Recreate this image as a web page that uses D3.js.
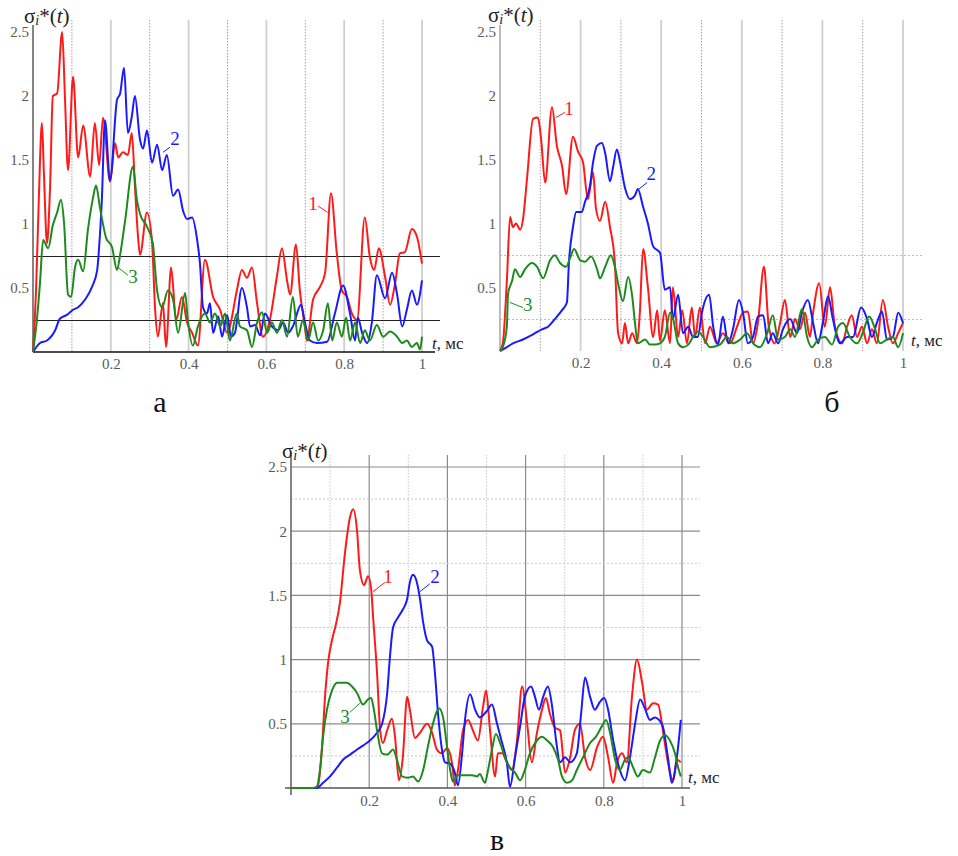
<!DOCTYPE html>
<html>
<head>
<meta charset="utf-8">
<script src="https://cdn.jsdelivr.net/npm/d3@7"></script>
<style>
  body { margin: 0; background: #fff; }
  svg text, svg tspan { font-family: "Liberation Serif", "Times New Roman", "DejaVu Serif", serif !important; }
</style>
</head>
<body>
<svg id="chart" width="958" height="856"></svg>
<script>
// ---- data (t in ms, sigma_i*) ----
var yTicks = [0.5, 1, 1.5, 2, 2.5];
var yTickLabels = ["0.5", "1", "1.5", "2", "2.5"];
var xTicks = [0.2, 0.4, 0.6, 0.8, 1];
var xTickLabels = ["0.2", "0.4", "0.6", "0.8", "1"];
var gridMajor = [0.2, 0.4, 0.6, 0.8, 1];
var gridMinor = [0.1, 0.3, 0.5, 0.7, 0.9];
var levelLines = [0.25, 0.75];
var gridYMinor = [0.25, 0.75, 1.25, 1.75, 2.25];
var seriesNames = ["1", "2", "3"];

// panel а
var redA = [[0,0],[.008,.5],[.015,1.2],[.023,1.79],[.028,1.4],[.036,.85],[.044,1.3],[.051,2.0],[.062,2.02],[.075,2.5],[.082,2.0],[.090,1.42],[.103,2.15],[.116,1.52],[.129,1.77],[.147,1.37],[.159,1.79],[.170,1.46],[.180,1.83],[.198,1.33],[.211,1.63],[.219,1.52],[.231,1.56],[.244,1.54],[.254,1.71],[.262,1.3],[.270,.9],[.275,.76],[.293,1.09],[.306,.86],[.314,.33],[.321,.12],[.334,.38],[.342,.04],[.355,.66],[.368,.25],[.383,.43],[.396,.23],[.409,.15],[.424,.05],[.442,.72],[.463,.43],[.481,.33],[.499,.15],[.506,.2],[.524,.48],[.537,.64],[.550,.58],[.563,.66],[.576,.38],[.591,.12],[.609,.25],[.627,.59],[.640,.81],[.653,.56],[.661,.45],[.676,.84],[.686,.48],[.699,.2],[.704,.09],[.720,.41],[.738,.51],[.751,.62],[.766,1.24],[.781,.77],[.794,.48],[.807,.43],[.820,.3],[.833,.25],[.853,1.05],[.866,.74],[.877,.64],[.889,.81],[.905,.59],[.918,.37],[.931,.54],[.943,.77],[.956,.78],[.974,.96],[.987,.9],[1,.69]];
var blueA = [[0,0],[.018,.07],[.036,.09],[.057,.17],[.069,.26],[.087,.29],[.103,.33],[.116,.35],[.134,.41],[.152,.51],[.165,.64],[.170,.82],[.177,1.19],[.185,1.81],[.198,1.34],[.216,1.97],[.224,2.02],[.234,2.22],[.244,1.71],[.254,1.84],[.262,2.0],[.275,1.66],[.283,1.59],[.293,1.73],[.306,1.48],[.319,1.62],[.332,1.42],[.344,1.54],[.360,1.22],[.373,1.27],[.386,1.1],[.396,1.04],[.409,1.05],[.422,.875],[.429,.7],[.437,.35],[.447,.3],[.455,.38],[.463,.15],[.476,.28],[.486,.12],[.499,.29],[.509,.12],[.519,.15],[.537,.5],[.550,.35],[.558,.2],[.571,.21],[.584,.13],[.596,.3],[.614,.2],[.630,.17],[.643,.23],[.656,.15],[.668,.2],[.689,.37],[.699,.23],[.712,.09],[.730,.07],[.756,.08],[.776,.3],[.797,.52],[.815,.3],[.828,.09],[.835,.27],[.846,.15],[.859,.07],[.871,.23],[.884,.6],[.905,.42],[.923,.62],[.936,.45],[.949,.2],[.961,.33],[.974,.48],[.987,.37],[1,.56]];
var greenA = [[0,0],[.010,.25],[.018,.54],[.026,.875],[.039,.81],[.051,.99],[.062,1.09],[.072,1.19],[.080,1.0],[.090,.45],[.098,.43],[.108,.66],[.116,.72],[.129,.63],[.141,.95],[.154,1.2],[.162,1.3],[.172,1.13],[.188,.89],[.203,.82],[.216,.64],[.224,.76],[.237,1.03],[.257,1.45],[.267,1.19],[.275,1.08],[.293,.98],[.308,.85],[.319,.48],[.332,.35],[.347,.48],[.360,.41],[.373,.15],[.391,.46],[.398,.25],[.411,.05],[.424,.2],[.442,.3],[.455,.23],[.468,.3],[.481,.2],[.494,.3],[.506,.09],[.524,.3],[.532,.2],[.550,.17],[.563,.04],[.576,.23],[.589,.31],[.602,.15],[.614,.23],[.627,.15],[.640,.25],[.653,.12],[.668,.43],[.681,.12],[.694,.25],[.707,.09],[.720,.23],[.733,.09],[.746,.17],[.758,.38],[.769,.09],[.781,.23],[.794,.12],[.805,.27],[.815,.09],[.828,.23],[.841,.07],[.853,.17],[.866,.09],[.884,.21],[.900,.12],[.918,.16],[.936,.12],[.949,.07],[.961,.09],[.974,.04],[.987,.07],[.995,.02],[1,.12]];

// panel б
var redB = [[0,0],[.007,.06],[.017,.55],[.025,1.05],[.032,.97],[.040,1.0],[.050,.95],[.057,1.03],[.067,1.35],[.082,1.82],[.094,1.83],[.102,1.66],[.112,1.32],[.129,1.91],[.141,1.61],[.154,1.45],[.164,1.23],[.181,1.68],[.194,1.56],[.206,1.48],[.218,1.19],[.231,1.4],[.238,1.12],[.248,1.02],[.261,1.17],[.273,.97],[.285,.69],[.293,.14],[.303,.06],[.310,.22],[.318,.06],[.328,.14],[.340,.06],[.347,.3],[.355,.8],[.367,.5],[.380,.11],[.390,.32],[.397,.08],[.409,.32],[.422,.06],[.429,.5],[.442,.11],[.452,.32],[.464,.06],[.476,.34],[.484,.11],[.496,.34],[.509,.06],[.521,.19],[.538,.06],[.553,.14],[.571,.06],[.588,.19],[.603,.3],[.615,.31],[.628,.06],[.640,.22],[.655,.66],[.667,.19],[.682,.06],[.695,.22],[.707,.4],[.720,.11],[.732,.25],[.744,.17],[.757,.3],[.769,.11],[.777,.3],[.792,.53],[.806,.19],[.819,.5],[.831,.19],[.849,.06],[.861,.19],[.873,.28],[.886,.11],[.898,.19],[.911,.06],[.923,.17],[.935,.06],[.950,.4],[.963,.19],[.975,.06],[.988,.14],[1,.22]];
var blueB = [[0,0],[.017,.03],[.032,.06],[.057,.09],[.082,.13],[.104,.17],[.119,.19],[.136,.25],[.154,.32],[.166,.38],[.171,.69],[.181,.97],[.189,1.09],[.203,1.09],[.211,1.17],[.223,1.29],[.231,1.48],[.241,1.61],[.253,1.63],[.261,1.55],[.273,1.33],[.280,1.43],[.290,1.58],[.298,1.48],[.310,1.28],[.323,1.19],[.335,1.22],[.342,1.27],[.355,1.13],[.367,1.0],[.380,.82],[.397,.77],[.409,.48],[.422,.5],[.429,.25],[.442,.44],[.454,.14],[.467,.19],[.479,.11],[.491,.11],[.501,.3],[.519,.44],[.529,.19],[.541,.05],[.553,.27],[.566,.06],[.578,.17],[.593,.4],[.603,.3],[.615,.06],[.628,.11],[.640,.27],[.653,.28],[.665,.06],[.677,.14],[.690,.06],[.702,.17],[.720,.25],[.737,.14],[.749,.3],[.764,.4],[.777,.22],[.789,.06],[.801,.22],[.814,.43],[.826,.25],[.844,.06],[.861,.11],[.876,.11],[.896,.34],[.911,.25],[.923,.11],[.935,.22],[.948,.31],[.960,.09],[.975,.11],[.988,.3],[1,.22]];
var greenB = [[0,0],[.007,.03],[.017,.19],[.020,.45],[.030,.55],[.037,.64],[.050,.58],[.062,.64],[.079,.69],[.092,.66],[.107,.57],[.124,.71],[.136,.75],[.149,.69],[.164,.66],[.174,.73],[.184,.8],[.199,.71],[.211,.7],[.226,.74],[.241,.64],[.248,.57],[.261,.66],[.275,.75],[.285,.66],[.295,.5],[.305,.39],[.318,.58],[.328,.43],[.335,.22],[.342,.06],[.360,.09],[.372,.05],[.385,.05],[.397,.06],[.409,.11],[.422,.3],[.429,.26],[.442,.06],[.454,.03],[.467,.05],[.479,.11],[.491,.15],[.504,.11],[.521,.03],[.546,.05],[.563,.11],[.578,.06],[.596,.09],[.613,.14],[.628,.06],[.645,.03],[.663,.14],[.677,.28],[.690,.09],[.707,.11],[.720,.17],[.732,.11],[.749,.33],[.762,.11],[.774,.03],[.789,.09],[.806,.11],[.824,.05],[.839,.19],[.851,.22],[.868,.11],[.886,.06],[.901,.15],[.916,.27],[.931,.17],[.943,.06],[.960,.09],[.975,.11],[.988,.03],[1,.14]];

// panel в
var redC = [[0,0],[.061,0],[.069,.02],[.079,.3],[.087,.71],[.095,.98],[.107,1.18],[.113,1.25],[.125,1.44],[.138,1.83],[.151,2.11],[.159,2.17],[.169,2.0],[.176,1.7],[.187,1.58],[.197,1.65],[.205,1.55],[.210,1.33],[.220,.9],[.228,.45],[.235,.35],[.246,.45],[.258,.54],[.266,.4],[.276,.06],[.286,.24],[.297,.71],[.304,.61],[.317,.39],[.330,.43],[.348,.5],[.361,.43],[.373,.3],[.386,.27],[.399,.31],[.412,.19],[.419,.02],[.427,.14],[.440,.45],[.453,.53],[.465,.45],[.478,.37],[.491,.63],[.499,.76],[.509,.45],[.522,.09],[.529,.27],[.540,.27],[.552,.2],[.565,.14],[.578,.37],[.591,.79],[.604,.5],[.616,.2],[.629,.43],[.642,.61],[.652,.7],[.662,.58],[.675,.47],[.688,.45],[.701,.12],[.714,.24],[.726,.45],[.739,.5],[.752,.24],[.765,.14],[.783,.32],[.798,.4],[.811,.24],[.824,.04],[.834,.2],[.847,.27],[.859,.2],[.872,.71],[.885,1.0],[.898,.82],[.910,.61],[.926,.66],[.939,.65],[.951,.45],[.964,.2],[.977,.06],[.987,.22],[.997,.2]];
var blueC = [[0,0],[.066,0],[.082,.04],[.100,.09],[.118,.16],[.133,.22],[.151,.26],[.169,.3],[.184,.33],[.202,.37],[.220,.43],[.233,.5],[.246,.74],[.253,1.02],[.261,1.25],[.274,1.33],[.286,1.39],[.297,1.47],[.304,1.6],[.312,1.66],[.322,1.6],[.330,1.47],[.338,1.29],[.348,1.15],[.361,1.1],[.368,.9],[.376,.58],[.386,.3],[.394,.2],[.407,.19],[.419,.12],[.427,.02],[.437,.25],[.445,.53],[.458,.73],[.471,.61],[.483,.55],[.501,.6],[.514,.65],[.527,.5],[.540,.35],[.552,.2],[.560,.01],[.573,.24],[.586,.48],[.598,.71],[.614,.79],[.624,.71],[.634,.61],[.645,.71],[.657,.79],[.668,.63],[.678,.37],[.688,.2],[.701,.24],[.714,.2],[.731,.27],[.742,.58],[.752,.86],[.765,.71],[.777,.61],[.790,.67],[.801,.7],[.811,.61],[.824,.37],[.841,.14],[.854,.06],[.867,.24],[.880,.5],[.893,.69],[.905,.62],[.918,.53],[.931,.55],[.941,.53],[.951,.48],[.964,.24],[.974,.04],[.987,.24],[.997,.53]];
var greenC = [[0,0],[.056,0],[.066,.01],[.074,.14],[.082,.4],[.092,.61],[.105,.76],[.118,.82],[.130,.82],[.143,.82],[.156,.79],[.169,.74],[.184,.65],[.197,.69],[.205,.7],[.212,.61],[.220,.45],[.233,.27],[.246,.26],[.261,.3],[.271,.22],[.284,.09],[.299,.08],[.312,.09],[.325,.05],[.338,.14],[.350,.32],[.363,.5],[.379,.62],[.389,.55],[.399,.32],[.407,.14],[.414,.05],[.427,.1],[.445,.1],[.463,.1],[.476,.09],[.483,.11],[.496,.04],[.504,.14],[.514,.3],[.524,.42],[.535,.35],[.547,.24],[.560,.16],[.573,.12],[.586,.06],[.598,.14],[.611,.27],[.629,.37],[.642,.4],[.655,.37],[.670,.32],[.683,.22],[.693,.09],[.706,.04],[.719,.06],[.731,.14],[.747,.24],[.765,.35],[.780,.4],[.795,.48],[.806,.53],[.816,.43],[.829,.22],[.841,.14],[.854,.22],[.862,.24],[.875,.16],[.887,.09],[.900,.14],[.918,.12],[.931,.24],[.944,.37],[.957,.41],[.969,.37],[.982,.27],[.990,.16],[.997,.09]];

// series label anchors [t, value] and leader lines [[t,v],[t,v]]
var labelsA = [[.720, 1.11], [.365, 1.62], [.257, .54]];
var leadersA = [[[.733, 1.14], [.758, 1.09]], [[.334, 1.56], [.352, 1.60]], [[.219, .66], [.244, .60]]];
var labelsB = [[.171, 1.85], [.375, 1.34], [.069, .31]];
var leadersB = [[[.139, 1.83], [.161, 1.87]], [[.345, 1.27], [.365, 1.32]], [[.025, .38], [.057, .34]]];
var labelsC = [[.248, 1.60], [.368, 1.60], [.138, .51]];
var leadersC = [[[.210, 1.53], [.240, 1.60]], [[.330, 1.53], [.355, 1.59]], [[.151, .59], [.176, .66]]];

var colors = ["#ff1a1a", "#1a1aff", "#1e8a1e"];
var serif = '"Liberation Serif", "Times New Roman", "DejaVu Serif", serif';

var svg = d3.select("#chart");
svg.append("rect").attr("width", 958).attr("height", 856).attr("fill", "#fff");

var panels = [
  { x0: 33, x1: 422, y0: 352, y1: 32, top: 20, hx2: 440, letter: "а", lx: 160, ly: 412,
    series: [redA, blueA, greenA], labels: labelsA, leaders: leadersA,
    style: "a", tx: 24, ty: 23, ax: 432, ay: 349 },
  { x0: 500, x1: 903, y0: 351, y1: 32, top: 20, hx2: 923, letter: "б", lx: 832, ly: 412,
    series: [redB, blueB, greenB], labels: labelsB, leaders: leadersB,
    style: "b", tx: 488, ty: 22, ax: 911, ay: 346 },
  { x0: 291, x1: 682, y0: 788, y1: 467, top: 455, hx2: 700, letter: "в", lx: 497, ly: 850,
    series: [redC, blueC, greenC], labels: labelsC, leaders: leadersC,
    style: "c", tx: 282, ty: 458, ax: 688, ay: 783 }
];

panels.forEach(drawPanel);

function drawPanel(p) {
  var x = d3.scaleLinear().domain([0, 1]).range([p.x0, p.x1]);
  var y = d3.scaleLinear().domain([0, 2.5]).range([p.y0, p.y1]);
  var g = svg.append("g").style("font-family", serif);

  // vertical grid
  g.selectAll(".vmin").data(gridMinor).enter().append("line")
    .attr("x1", function(d) { return x(d); }).attr("x2", function(d) { return x(d); })
    .attr("y1", p.top).attr("y2", p.y0)
    .attr("stroke", p.style === "c" ? "#c8c8c8" : "#a0a0a0")
    .attr("stroke-width", 1)
    .attr("stroke-dasharray", "1.5,1.5");
  g.selectAll(".vmaj").data(gridMajor).enter().append("line")
    .attr("x1", function(d) { return x(d); }).attr("x2", function(d) { return x(d); })
    .attr("y1", p.top).attr("y2", p.y0)
    .attr("stroke", p.style === "c" ? "#8c8c8c" : "#cfcfcf")
    .attr("stroke-width", p.style === "c" ? 1.2 : 1.8);

  // horizontal lines
  if (p.style === "c") {
    g.selectAll(".hmin").data(gridYMinor).enter().append("line")
      .attr("x1", p.x0).attr("x2", p.hx2)
      .attr("y1", function(d) { return y(d); }).attr("y2", function(d) { return y(d); })
      .attr("stroke", "#c8c8c8").attr("stroke-width", 1).attr("stroke-dasharray", "2,2");
    g.selectAll(".hmaj").data(yTicks).enter().append("line")
      .attr("x1", p.x0).attr("x2", p.hx2)
      .attr("y1", function(d) { return y(d); }).attr("y2", function(d) { return y(d); })
      .attr("stroke", "#8c8c8c").attr("stroke-width", 1.2);
  } else {
    g.selectAll(".hlev").data(levelLines).enter().append("line")
      .attr("x1", p.x0).attr("x2", p.hx2)
      .attr("y1", function(d) { return Math.round(y(d)) + 0.5; })
      .attr("y2", function(d) { return Math.round(y(d)) + 0.5; })
      .attr("stroke", p.style === "a" ? "#222" : "#bbb")
      .attr("stroke-width", 1)
      .attr("stroke-dasharray", p.style === "a" ? null : "2,2");
  }

  // axes lines
  g.append("line").attr("x1", p.x0).attr("x2", p.x0)
    .attr("y1", p.style === "c" ? p.top : p.top + 5).attr("y2", p.style === "c" ? p.y0 + 7 : p.y0)
    .attr("stroke", p.style === "b" ? "#aaa" : "#666").attr("stroke-width", 1.6);
  if (p.style !== "b") {
    g.append("line").attr("x1", p.style === "c" ? p.x0 - 6 : p.x0).attr("x2", p.style === "c" ? p.x1 + 8 : p.x1 + 13)
      .attr("y1", p.y0).attr("y2", p.y0)
      .attr("stroke", p.style === "a" ? "#111" : "#555").attr("stroke-width", 1.6);
  }

  // tick labels via axes
  var ya = g.append("g").attr("transform", "translate(" + p.x0 + ",0)")
    .call(d3.axisLeft(y).tickValues(yTicks).tickSize(0).tickPadding(4)
      .tickFormat(function(d, i) { return yTickLabels[i]; }));
  var xa = g.append("g").attr("transform", "translate(0," + p.y0 + ")")
    .call(d3.axisBottom(x).tickValues(xTicks).tickSize(0).tickPadding(p.style === "c" ? 7 : 6)
      .tickFormat(function(d, i) { return xTickLabels[i]; }));
  [ya, xa].forEach(function(a) {
    a.attr("font-family", null);
    a.select(".domain").remove();
    a.selectAll("text").style("font-family", serif).attr("font-size", 15).attr("fill", "#5a5a5a");
  });

  // curves
  var line = d3.line()
    .x(function(d) { return x(d[0]); })
    .y(function(d) { return y(d[1]); })
    .curve(d3.curveMonotoneX);
  p.series.forEach(function(s, i) {
    g.append("path").datum(s)
      .attr("d", line)
      .attr("fill", "none")
      .attr("stroke", colors[i])
      .attr("stroke-width", 2)
      .attr("stroke-linejoin", "round");
  });

  // series labels and leaders
  p.leaders.forEach(function(l, i) {
    g.append("line")
      .attr("x1", x(l[0][0])).attr("y1", y(l[0][1]))
      .attr("x2", x(l[1][0])).attr("y2", y(l[1][1]))
      .attr("stroke", colors[i]).attr("stroke-width", 1);
  });
  p.labels.forEach(function(l, i) {
    g.append("text").attr("x", x(l[0])).attr("y", y(l[1]))
      .attr("text-anchor", "middle").attr("font-size", 19)
      .attr("fill", colors[i]).text(seriesNames[i]);
  });

  // title σi*(t)
  var t = g.append("text").attr("x", p.tx).attr("y", p.ty)
    .attr("font-size", 21).attr("fill", "#222");
  t.append("tspan").text("σ");
  t.append("tspan").attr("font-style", "italic").attr("font-size", 14).attr("dy", 2).text("i");
  t.append("tspan").attr("dy", -2).text("*(");
  t.append("tspan").attr("font-style", "italic").text("t");
  t.append("tspan").text(")");

  // x axis label
  var ax = g.append("text").attr("x", p.ax).attr("y", p.ay)
    .attr("font-size", 17).attr("fill", "#222");
  ax.append("tspan").attr("font-style", "italic").text("t");
  ax.append("tspan").text(", мс");

  // panel letter
  g.append("text").attr("x", p.lx).attr("y", p.ly)
    .attr("text-anchor", "middle").attr("font-size", 30).attr("fill", "#111")
    .text(p.letter);
}
</script>
</body>
</html>
